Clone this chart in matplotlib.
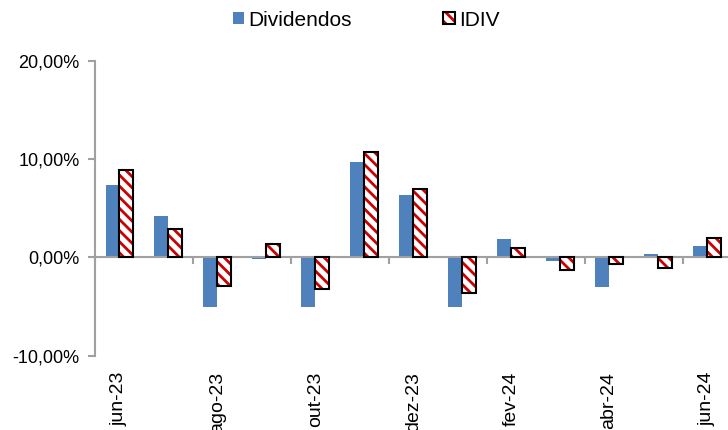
import matplotlib
matplotlib.use('Agg')
import matplotlib.pyplot as plt
import numpy as np
from matplotlib.patches import Patch
from matplotlib.ticker import FuncFormatter, FixedLocator
import matplotlib.transforms as mtransforms

plt.rcParams['font.family'] = ['Liberation Sans', 'DejaVu Sans']
plt.rcParams['hatch.linewidth'] = 2.0

# monthly returns (%)
months = ['jun-23', 'jul-23', 'ago-23', 'set-23', 'out-23', 'nov-23', 'dez-23',
          'jan-24', 'fev-24', 'mar-24', 'abr-24', 'mai-24', 'jun-24']
dividendos = [7.4, 4.2, -5.05, -0.2, -5.05, 9.7, 6.3, -5.05, 1.9, -0.35, -3.0, 0.35, 1.2]
idiv = [8.85, 2.85, -2.9, 1.35, -3.2, 10.75, 6.95, -3.6, 0.95, -1.3, -0.7, -1.05, 2.0]

blue = '#4F81BD'
red = '#CC0000'
gray = '#A0A0A0'

fig = plt.figure(figsize=(7.28, 4.30), dpi=100)
ax = fig.add_axes([95 / 728, 1 - 355.7 / 430, (731.5 - 95) / 728, (355.7 - 60.7) / 430])

x = np.arange(len(months))
w = 0.285
ax.bar(x - w / 2, dividendos, w, color=blue, linewidth=0, zorder=2)
ax.bar(x + w / 2, idiv, w, color='white', edgecolor=red, hatch='\\\\\\', linewidth=0, zorder=2)
ax.bar(x + w / 2, idiv, w, fill=False, edgecolor='black', linewidth=1.5, zorder=3)

ax.set_xlim(-0.5, len(months) - 0.5)
ax.set_ylim(-10, 20)
ax.set_yticks([-10, 0, 10, 20])
ax.yaxis.set_major_formatter(FuncFormatter(lambda v, p: f'{v:.2f}'.replace('.', ',') + '%'))

for s in ['top', 'right']:
    ax.spines[s].set_visible(False)
ax.spines['bottom'].set_position(('data', 0))
ax.spines['bottom'].set_color(gray)
ax.spines['bottom'].set_linewidth(1.5)
ax.spines['left'].set_color(gray)
ax.spines['left'].set_linewidth(1.5)

ax.xaxis.set_major_locator(FixedLocator(np.arange(-0.5, len(months), 2)))
ax.set_xticklabels([])
ax.tick_params(axis='x', direction='out', length=5, color=gray, width=1.5)
ax.tick_params(axis='y', direction='out', length=5, color=gray, width=1.5,
               labelsize=13, pad=6)

# month labels along the bottom (cut at the lower edge, as in the source)
trans = mtransforms.blended_transform_factory(ax.transData, ax.transAxes)
for i in range(0, len(months), 2):
    ax.text(i, -0.055, months[i], transform=trans, rotation=90, ha='center', va='top',
            fontsize=14)

handles = [Patch(facecolor=blue, edgecolor='none'),
           (Patch(facecolor='white', edgecolor=red, hatch='\\\\\\', linewidth=0),
            Patch(fill=False, edgecolor='black', linewidth=1.5))]
fig.legend(handles, ['Dividendos', 'IDIV'], loc='center', ncol=2, frameon=False,
           bbox_to_anchor=(366 / 728, 1 - 20 / 430), fontsize=15,
           handlelength=0.55, handleheight=0.55, handletextpad=0.2, columnspacing=4.4)

fig.savefig('out.png', dpi=100)
